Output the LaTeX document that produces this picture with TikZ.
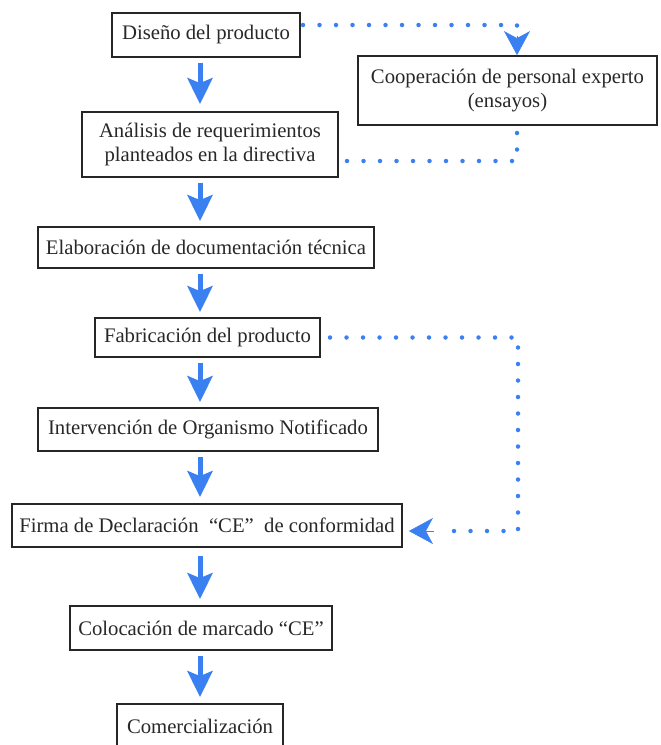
\documentclass[tikz,border=0pt]{standalone}
\usepackage{fontspec}
\setmainfont{Liberation Serif}
\usetikzlibrary{arrows.meta,calc}
\definecolor{flowblue}{RGB}{58,128,240}
\definecolor{boxtext}{RGB}{40,40,40}
\begin{document}
\begin{tikzpicture}[x=1pt,y=-1pt,
  box/.style={draw=black!85, line width=1.8pt, fill=white, inner sep=0pt,
    align=center, font=\fontsize{20.7}{23.5}\selectfont, text=boxtext},
  flowarrow/.style={draw=flowblue, line width=5pt,
    -{Stealth[length=26pt,width=25pt,inset=5pt,fill=flowblue]}},
  dotline/.style={draw=flowblue, line width=4.5pt, line cap=round,
    dash pattern=on 0pt off 16.5pt},
  dothead/.style={draw=flowblue, line width=0.5pt,
    -{Stealth[length=24pt,width=26pt,inset=7pt,fill=flowblue]}}
]
\useasboundingbox (0,0) rectangle (661,745);
\clip (0,0) rectangle (661,745);

\node[box, minimum width=188pt, minimum height=44pt] (dis) at (206,35) {Diseño del producto};
\node[box, minimum width=299pt, minimum height=69pt] (coop) at (507.5,90.5) {Cooperación de personal experto\\(ensayos)};
\node[box, minimum width=256pt, minimum height=65pt] (ana) at (210,144.5) {Análisis de requerimientos\\planteados en la directiva};
\node[box, minimum width=336pt, minimum height=41pt] (ela) at (206,247.5) {Elaboración de documentación técnica};
\node[box, minimum width=225pt, minimum height=39pt] (fab) at (207.5,337.5) {Fabricación del producto};
\node[box, minimum width=340pt, minimum height=43pt] (int) at (208,429.5) {Intervención de Organismo Notificado};
\node[box, minimum width=390pt, minimum height=43pt] (fir) at (207,525.5) {Firma de Declaración\ \ “CE”\ \ de conformidad};
\node[box, minimum width=262pt, minimum height=44pt] (col) at (201,628) {Colocación de marcado “CE”};
\node[box, minimum width=166pt, minimum height=44pt] (com) at (200,726) {Comercialización};

% main flow arrows
\coordinate (ax) at (200,0);
\draw[flowarrow] ([yshift=-5pt]dis.south -| ax) -- ([yshift=7pt]ana.north -| ax);
\draw[flowarrow] ([yshift=-5pt]ana.south -| ax) -- ([yshift=5pt]ela.north -| ax);
\draw[flowarrow] ([yshift=-5pt]ela.south -| ax) -- ([yshift=5pt]fab.north -| ax);
\draw[flowarrow] ([yshift=-5pt]fab.south -| ax) -- ([yshift=5pt]int.north -| ax);
\draw[flowarrow] ([yshift=-5pt]int.south -| ax) -- ([yshift=6pt]fir.north -| ax);
\draw[flowarrow] ([yshift=-8pt]fir.south -| ax) -- ([yshift=6pt]col.north -| ax);
\draw[flowarrow] ([yshift=-5pt]col.south -| ax) -- ([yshift=6pt]com.north -| ax);

% dotted connector: design -> cooperation
\coordinate (vx) at (517,0);
\coordinate (t1) at (303,25);
\coordinate (t2) at (517,36);
\draw[dotline] (t1) -| (t2);
\draw[dothead] (t2) -- (coop.north -| vx);

% dotted connector: cooperation -> analysis
\coordinate (u1) at (517,133);
\coordinate (u2) at (345,161);
\draw[dotline] (u1) |- (u2);

% dotted connector: fabrication -> declaration
\coordinate (w1) at (330,337.5);
\coordinate (w2) at (518,531);
\coordinate (w3) at (441,531);
\coordinate (w4) at (434,531);
\draw[dotline] (w1) -| (w2) -- (w3);
\draw[dothead] (w4) -- ([xshift=6pt]fir.east |- w4);
\end{tikzpicture}
\end{document}
